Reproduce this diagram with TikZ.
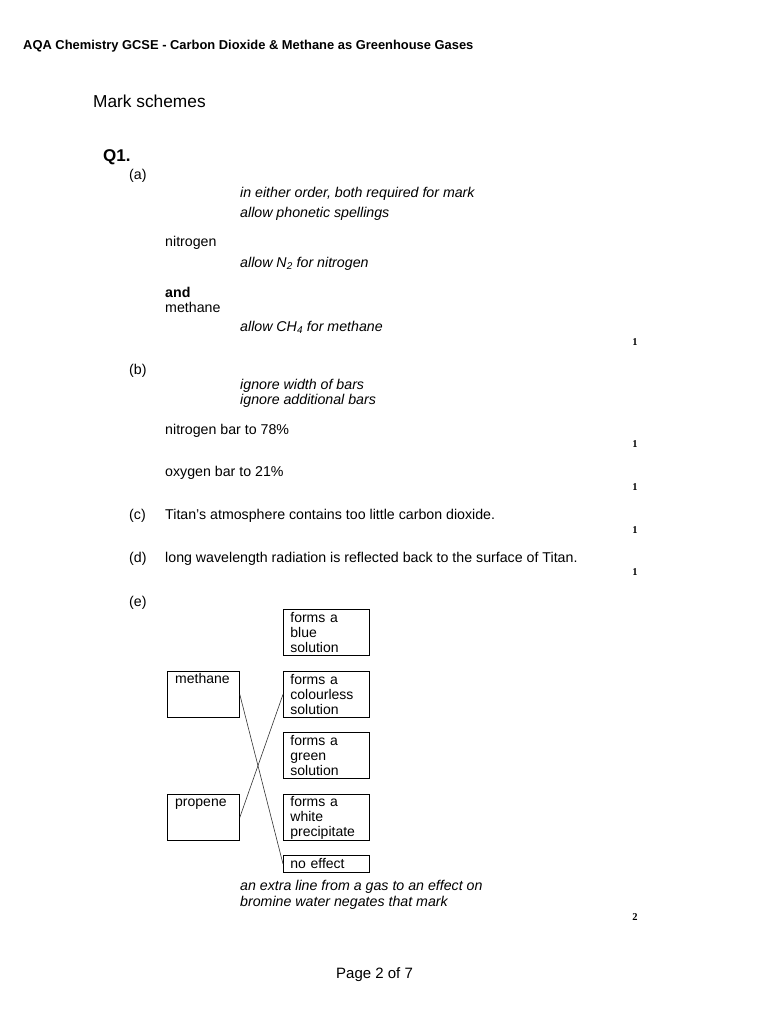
\documentclass[tikz,border=0pt]{standalone}
\usepackage{fontspec}
\setmainfont{Liberation Sans}
\newfontfamily\markfont{Liberation Serif}
\newcommand{\bodyf}{\fontsize{14.2}{16}\selectfont}
\newcommand{\boxf}{\fontsize{14}{15}\selectfont}
\begin{document}
\begin{tikzpicture}[x=1pt,y=-1pt,
  txt/.style={anchor=base west,inner sep=0pt,font=\bodyf},
  itx/.style={txt,font=\bodyf\itshape},
  mk/.style={anchor=base,inner sep=0pt,font=\markfont\bfseries\fontsize{10.5}{12}\selectfont},
  optbox/.style={draw,line width=0.8pt,anchor=north west,minimum width=86pt,minimum height=46pt,inner xsep=7pt,inner ysep=0pt,text width=72pt,align=left,font=\boxf},
  gasbox/.style={draw,line width=0.8pt,anchor=north west,minimum width=72pt,minimum height=46pt,inner sep=0pt},
  gastxt/.style={anchor=base west,inner sep=0pt,font=\boxf},
  link/.style={line width=0.6pt,black!80}]
\useasboundingbox (0,0) rectangle (768,1024);
\fill[white] (0,0) rectangle (768,1024);
% header
\node[anchor=base west,inner sep=0pt,font=\bfseries\fontsize{12.9}{15}\selectfont] (hdr) at (23,50) {AQA Chemistry GCSE - Carbon Dioxide \& Methane as Greenhouse Gases};
\node[anchor=base west,inner sep=0pt,font=\fontsize{17.3}{20}\selectfont] (ms) at (93,108) {Mark schemes};
\node[anchor=base west,inner sep=0pt,font=\bfseries\fontsize{17}{20}\selectfont] (q1) at (103,162) {Q1.};
% (a)
\node[txt] (pa) at (129,180) {(a)};
\node[itx] (a1) at (240,198) {in either order, both required for mark};
\node[itx] (a2) at (240,218) {allow phonetic spellings};
\node[txt] (a3) at (165,247) {nitrogen};
\node[itx] (a4) at (240,267) {allow N\textsubscript{2} for nitrogen};
\node[txt,font=\bodyf\bfseries] (a5) at (165,297) {and};
\node[txt] (a6) at (165,312) {methane};
\node[itx] (a7) at (240,331) {allow CH\textsubscript{4} for methane};
\node[mk] (m1) at (635,345) {1};
% (b)
\node[txt] (pb) at (129,374) {(b)};
\node[itx] (b1) at (240,389) {ignore width of bars};
\node[itx] (b2) at (240,404) {ignore additional bars};
\node[txt] (b3) at (165,434) {nitrogen bar to 78\%};
\node[mk] (m2) at (635,447) {1};
\node[txt] (b4) at (165,476) {oxygen bar to 21\%};
\node[mk] (m3) at (635,490) {1};
% (c)
\node[txt] (pc) at (129,519) {(c)};
\node[txt] (c1) at (165,519) {Titan’s atmosphere contains too little carbon dioxide.};
\node[mk] (m4) at (635,533) {1};
% (d)
\node[txt] (pd) at (129,562) {(d)};
\node[txt] (d1) at (165,562) {long wavelength radiation is reflected back to the surface of Titan.};
\node[mk] (m5) at (635,575) {1};
% (e)
\node[txt] (pe) at (129,606) {(e)};
\node[optbox] (blue) at (283,609) {forms a\\blue\\solution};
\node[optbox] (col) at (283,671) {forms a\\colourless\\solution};
\node[optbox] (grn) at (283,732) {forms a\\green\\solution};
\node[optbox] (wht) at (283,794) {forms a\\white\\precipitate};
\node[draw,line width=0.8pt,anchor=north west,minimum width=86pt,minimum height=17pt,inner xsep=7pt,inner ysep=0pt,text width=72pt,align=left,font=\boxf] (ne) at (283,855) {no effect};
\node[gasbox] (meth) at (167,671) {};
\node[gastxt] (methT) at (175,683.5) {methane};
\node[gasbox] (prop) at (167,794) {};
\node[gastxt] (propT) at (175,806.5) {propene};
\draw[link] (meth.east) -- (ne.west);
\draw[link] (prop.east) -- (col.west);
\node[itx] (e1) at (240,890) {an extra line from a gas to an effect on};
\node[itx] (e2) at (240,906) {bromine water negates that mark};
\node[mk] (m6) at (635,920) {2};
% footer
\node[anchor=base west,inner sep=0pt,font=\fontsize{15}{17}\selectfont] (pg) at (336,978) {Page 2 of 7};
\end{tikzpicture}
\end{document}
